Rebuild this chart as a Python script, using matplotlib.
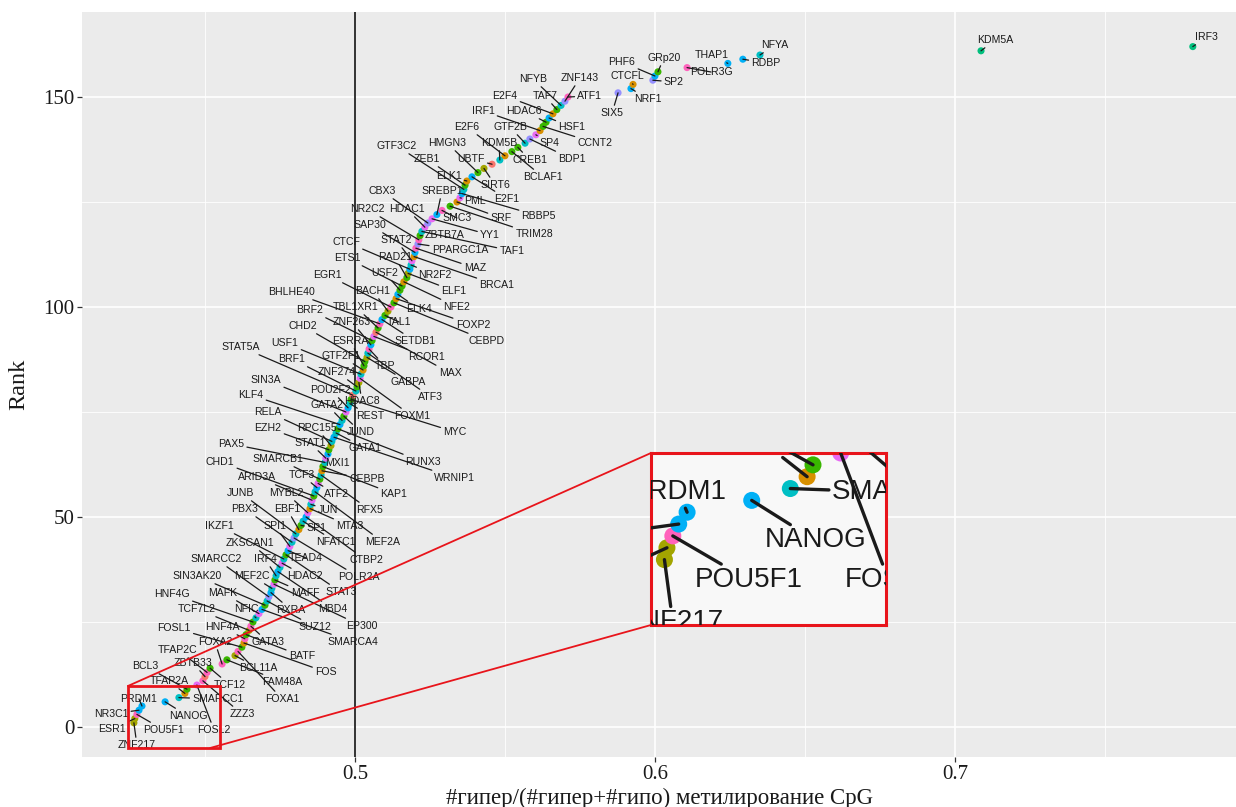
import matplotlib
matplotlib.use("Agg")
import matplotlib.pyplot as plt
from matplotlib.patches import Rectangle, ConnectionPatch

# ---------------- data (ordered by rank, bottom to top) ----------------
genes = [
    "ZNF217", "ESR1", "POU5F1", "NR3C1", "PRDM1", "NANOG", "SMARCC1", "TFAP2A", "BCL3", "FOSL2",
    "ZZZ3", "ZBTB33", "TFAP2C", "TCF12", "FOXA2", "FAM48A", "BCL11A", "FOXA1", "FOSL1", "FOS",
    "HNF4A", "BATF", "TCF7L2", "GATA3", "HNF4G", "NFIC", "MAFK", "SMARCA4", "SIN3AK20", "SUZ12",
    "SMARCC2", "RXRA", "MEF2C", "EP300", "MAFF", "IRF4", "MBD4", "ZKSCAN1", "HDAC2", "IKZF1",
    "STAT3", "TEAD4", "SPI1", "PBX3", "POLR2A", "JUNB", "EBF1", "SP1", "NFATC1", "CTBP2",
    "MYBL2", "MTA3", "JUN", "ARID3A", "CHD1", "MEF2A", "TCF3", "ATF2", "SMARCB1", "RFX5",
    "CEBPB", "KAP1", "PAX5", "STAT1", "MXI1", "EZH2", "RPC155", "RELA", "WRNIP1", "GATA1",
    "RUNX3", "KLF4", "GATA2", "JUND", "SIN3A", "POU2F2", "REST", "MYC", "STAT5A", "BRF1",
    "ZNF274", "HDAC8", "FOXM1", "USF1", "GTF2F1", "ESRRA", "CHD2", "GABPA", "ATF3", "TBP",
    "ZNF263", "BRF2", "RCOR1", "MAX", "TBL1XR1", "BHLHE40", "SETDB1", "TAL1", "BACH1", "EGR1",
    "CEBPD", "FOXP2", "ELK4", "USF2", "ETS1", "NFE2", "RAD21", "ELF1", "CTCF", "NR2F2",
    "STAT2", "BRCA1", "SAP30", "MAZ", "PPARGC1A", "NR2C2", "ZBTB7A", "TAF1", "HDAC1", "CBX3",
    "YY1", "SREBP1", "SMC3", "TRIM28", "SRF", "PML", "RBBP5", "GTF3C2", "ZEB1", "ELK1",
    "E2F1", "HMGN3", "SIRT6", "UBTF", "KDM5B", "E2F6", "BCLAF1", "CREB1", "GTF2B", "BDP1",
    "SP4", "IRF1", "CCNT2", "HDAC6", "HSF1", "E2F4", "TAF7", "NFYB", "ZNF143", "ATF1",
    "SIX5", "NRF1", "CTCFL", "SP2", "PHF6", "GRp20", "POLR3G", "THAP1", "RDBP", "NFYA",
    "KDM5A", "IRF3",
]
rank = list(range(1, len(genes) + 1))

meth_ratio = [
    0.4263, 0.4266, 0.4273, 0.4280, 0.4290, 0.4367, 0.4413, 0.4433, 0.4440, 0.4473,
    0.4493, 0.4500, 0.4507, 0.4517, 0.4557, 0.4573, 0.4600, 0.4610, 0.4623, 0.4630,
    0.4633, 0.4637, 0.4647, 0.4653, 0.4660, 0.4670, 0.4680, 0.4690, 0.4700, 0.4707,
    0.4713, 0.4720, 0.4723, 0.4730, 0.4733, 0.4737, 0.4743, 0.4750, 0.4757, 0.4763,
    0.4770, 0.4777, 0.4783, 0.4790, 0.4797, 0.4803, 0.4813, 0.4820, 0.4827, 0.4837,
    0.4843, 0.4850, 0.4853, 0.4857, 0.4863, 0.4867, 0.4873, 0.4877, 0.4883, 0.4887,
    0.4890, 0.4893, 0.4900, 0.4903, 0.4910, 0.4913, 0.4920, 0.4923, 0.4930, 0.4937,
    0.4943, 0.4950, 0.4957, 0.4963, 0.4970, 0.4977, 0.4983, 0.4987, 0.4993, 0.5003,
    0.5007, 0.5013, 0.5017, 0.5020, 0.5027, 0.5030, 0.5033, 0.5040, 0.5043, 0.5047,
    0.5053, 0.5057, 0.5063, 0.5070, 0.5077, 0.5083, 0.5090, 0.5100, 0.5110, 0.5120,
    0.5130, 0.5137, 0.5143, 0.5150, 0.5157, 0.5163, 0.5173, 0.5177, 0.5183, 0.5187,
    0.5190, 0.5197, 0.5200, 0.5203, 0.5210, 0.5213, 0.5217, 0.5223, 0.5233, 0.5243,
    0.5257, 0.5273, 0.5290, 0.5317, 0.5340, 0.5350, 0.5357, 0.5363, 0.5367, 0.5373,
    0.5390, 0.5410, 0.5430, 0.5457, 0.5483, 0.5500, 0.5523, 0.5543, 0.5567, 0.5583,
    0.5603, 0.5617, 0.5627, 0.5637, 0.5647, 0.5660, 0.5673, 0.5687, 0.5700, 0.5710,
    0.5877, 0.5920, 0.5927, 0.5993, 0.6000, 0.6010, 0.6107, 0.6243, 0.6293, 0.6350,
    0.7087, 0.7793,
]

color_group = [
    2, 2, 9, 6, 6, 6, 5, 1, 3, 8,
    9, 0, 9, 3, 9, 3, 2, 9, 3, 1,
    9, 3, 2, 9, 3, 5, 8, 6, 3, 5,
    7, 6, 5, 8, 3, 5, 6, 5, 8, 5,
    3, 6, 8, 5, 7, 5, 1, 3, 5, 6,
    8, 1, 5, 8, 3, 5, 6, 8, 3, 5,
    1, 3, 5, 8, 6, 3, 2, 5, 6, 5,
    3, 6, 5, 3, 8, 6, 5, 3, 0, 5,
    3, 2, 8, 5, 1, 3, 3, 2, 5, 9,
    6, 3, 8, 0, 3, 9, 6, 3, 2, 9,
    3, 1, 6, 3, 3, 1, 3, 2, 6, 5,
    8, 1, 6, 9, 7, 9, 3, 5, 8, 7,
    8, 6, 9, 3, 1, 8, 6, 5, 3, 1,
    6, 3, 2, 0, 5, 1, 3, 3, 5, 7,
    8, 1, 3, 3, 6, 1, 3, 5, 7, 9,
    7, 6, 1, 7, 6, 3, 9, 6, 6, 5,
    4, 4,
]
palette = ["#F8766D", "#D89000", "#A3A500", "#39B600", "#00BF7D",
           "#00BFC4", "#00B0F6", "#9590FF", "#E76BF3", "#FF62BC"]

x_ticks = [0.5, 0.6, 0.7]
x_tick_labels = ["0.5", "0.6", "0.7"]
y_ticks = [0, 50, 100, 150]
y_tick_labels = ["0", "50", "100", "150"]
x_title = "#гипер/(#гипер+#гипо) метилирование CpG"
y_title = "Rank"

# ---------------- label layout (repelled label positions, data units) ----------------
label_x = [
    0.4273, 0.4190, 0.4363, 0.4187, 0.4280, 0.4443, 0.4543, 0.4380, 0.4300, 0.4530,
    0.4623, 0.4460, 0.4410, 0.4583, 0.4533, 0.4757, 0.4677, 0.4757, 0.4397, 0.4903,
    0.4557, 0.4823, 0.4473, 0.4710, 0.4390, 0.4637, 0.4560, 0.4993, 0.4473, 0.4867,
    0.4537, 0.4787, 0.4657, 0.5023, 0.4833, 0.4700, 0.4927, 0.4650, 0.4833, 0.4547,
    0.4953, 0.4837, 0.4733, 0.4633, 0.5013, 0.4620, 0.4773, 0.4873, 0.4937, 0.5037,
    0.4770, 0.4983, 0.4910, 0.4673, 0.4550, 0.5093, 0.4823, 0.4937, 0.4743, 0.5050,
    0.5040, 0.5130, 0.4587, 0.4850, 0.4943, 0.4710, 0.4873, 0.4710, 0.5333, 0.5033,
    0.5227, 0.4653, 0.4907, 0.5020, 0.4703, 0.4920, 0.5050, 0.5333, 0.4620, 0.4790,
    0.4940, 0.5023, 0.5190, 0.4767, 0.4953, 0.4983, 0.4827, 0.5177, 0.5253, 0.5100,
    0.4990, 0.4850, 0.5240, 0.5317, 0.5003, 0.4787, 0.5200, 0.5147, 0.5060, 0.4907,
    0.5440, 0.5393, 0.5213, 0.5100, 0.4973, 0.5340, 0.5133, 0.5330, 0.4970, 0.5267,
    0.5137, 0.5473, 0.5050, 0.5400, 0.5350, 0.5040, 0.5300, 0.5523, 0.5173, 0.5090,
    0.5450, 0.5290, 0.5340, 0.5597, 0.5487, 0.5400, 0.5613, 0.5140, 0.5240, 0.5313,
    0.5507, 0.5307, 0.5467, 0.5387, 0.5480, 0.5373, 0.5627, 0.5583, 0.5517, 0.5723,
    0.5650, 0.5427, 0.5800, 0.5563, 0.5723, 0.5500, 0.5633, 0.5593, 0.5750, 0.5783,
    0.5857, 0.5977, 0.5907, 0.6063, 0.5890, 0.6030, 0.6187, 0.6190, 0.6370, 0.6400,
    0.7133, 0.7840,
]
label_y = [
    -4.29, -0.48, -0.71, 3.10, 6.67, 2.62, 6.67, 10.95, 14.52, -0.71,
    3.10, 15.24, 18.33, 10.00, 20.24, 10.71, 14.05, 6.67, 23.57, 13.10,
    23.81, 16.90, 28.10, 20.24, 31.67, 28.10, 31.90, 20.24, 35.95, 23.81,
    40.00, 27.86, 35.95, 24.05, 31.90, 40.00, 28.10, 43.81, 35.95, 47.86,
    32.14, 40.24, 47.86, 51.90, 35.71, 55.71, 51.90, 47.38, 44.05, 39.76,
    55.71, 47.86, 51.67, 59.52, 63.10, 44.05, 60.00, 55.48, 63.81, 51.67,
    59.05, 55.48, 67.38, 67.62, 62.86, 71.19, 71.19, 75.00, 59.29, 66.43,
    63.10, 79.05, 76.67, 70.24, 82.62, 80.24, 74.05, 70.24, 90.48, 87.62,
    84.52, 77.62, 74.05, 91.43, 88.33, 91.90, 95.48, 82.14, 78.57, 85.95,
    96.43, 99.29, 88.10, 84.29, 100.00, 103.57, 91.90, 96.43, 103.81, 107.62,
    91.90, 95.71, 99.52, 108.10, 111.67, 100.00, 111.90, 103.81, 115.48, 107.62,
    115.95, 105.24, 119.52, 109.29, 113.57, 123.33, 117.14, 113.33, 123.33, 127.62,
    117.14, 127.62, 121.19, 117.38, 121.19, 125.24, 121.67, 138.33, 135.24, 131.19,
    125.71, 139.05, 129.05, 135.24, 139.05, 142.86, 130.95, 135.00, 142.86, 135.24,
    139.05, 146.67, 139.05, 146.67, 142.86, 150.24, 150.24, 154.29, 154.52, 150.24,
    146.19, 149.52, 155.00, 153.57, 158.33, 159.29, 155.95, 160.00, 158.10, 162.38,
    163.57, 164.29,
]

# ---------------- figure ----------------
W, H = 1236, 807
fig = plt.figure(figsize=(W / 100, H / 100), dpi=100)
fig.patch.set_facecolor("white")
ax = fig.add_axes([82 / W, 1 - 757 / H, (1236 - 82) / W, (757 - 12) / H])
ax.set_facecolor("#EBEBEB")
ax.set_xlim(0.4090, 0.7937)
ax.set_ylim(-7.14, 170.24)
for s in ax.spines.values():
    s.set_visible(False)

# grid
for v in [0.45, 0.55, 0.65, 0.75]:
    ax.axvline(v, color="white", lw=0.6, zorder=0)
for v in [25, 75, 125]:
    ax.axhline(v, color="white", lw=0.6, zorder=0)
for v in x_ticks:
    ax.axvline(v, color="white", lw=1.2, zorder=0)
for v in y_ticks:
    ax.axhline(v, color="white", lw=1.2, zorder=0)

ax.axvline(0.5, color="#222222", lw=1.3, zorder=1)

point_colors = [palette[c] for c in color_group]


def draw_layer(a, msize, fsize, lw, window=None):
    a.scatter(meth_ratio, rank, s=msize, c=point_colors, linewidths=0, zorder=2)
    for g, x, r, lx, ly in zip(genes, meth_ratio, rank, label_x, label_y):
        if window is not None:
            x0, x1, y0, y1 = window
            inside_pt = x0 <= x <= x1 and y0 <= r <= y1
            inside_lab = x0 <= lx <= x1 and y0 <= ly <= y1
            if not (inside_pt or inside_lab):
                continue
        ann = a.annotate(
            g, xy=(x, r), xytext=(lx, ly), textcoords="data",
            ha="center", va="center", fontsize=fsize, color="#1a1a1a",
            family="Liberation Sans", annotation_clip=False, zorder=3,
            arrowprops=dict(arrowstyle="-", color="#1a1a1a", lw=lw,
                            shrinkA=0, shrinkB=0),
        )
        if window is not None:
            ann.set_clip_on(True)
            ann.set_clip_box(a.bbox)
            ann.arrow_patch.set_clip_on(True)
            ann.arrow_patch.set_clip_box(a.bbox)


draw_layer(ax, 26, 7.6, 0.9)

ax.set_xticks(x_ticks)
ax.set_xticklabels(x_tick_labels)
ax.set_yticks(y_ticks)
ax.set_yticklabels(y_tick_labels)
ax.tick_params(axis="both", length=3.5, width=0.9, color="#333333",
               labelsize=15, labelcolor="#1a1a1a", pad=2)
for t in ax.get_xticklabels() + ax.get_yticklabels():
    t.set_family("Liberation Serif")
ax.set_xlabel(x_title, family="Liberation Serif", fontsize=16.5, labelpad=3, color="#1a1a1a")
ax.set_ylabel(y_title, family="Liberation Serif", fontsize=17.5, labelpad=10, color="#1a1a1a")

# zoom rectangle
rx0, rx1, ry0, ry1 = 0.4243, 0.4550, -5.0, 9.76
ax.add_patch(Rectangle((rx0, ry0), rx1 - rx0, ry1 - ry0, fill=False,
                       edgecolor="#E8141B", lw=2.0, zorder=6))

# inset (magnified view)
ix0, ix1, iy0, iy1 = 0.4247, 0.4527, -4.52, 10.0
ins = fig.add_axes([651 / W, 1 - 625 / H, 235 / W, 172 / H])
ins.set_facecolor("#F8F8F8")
ins.set_xlim(ix0, ix1)
ins.set_ylim(iy0, iy1)
ins.set_xticks([])
ins.set_yticks([])
draw_layer(ins, 150, 20, 2.4, window=(ix0 - 0.004, ix1 + 0.004, iy0 - 1.5, iy1 + 1.5))
for s in ins.spines.values():
    s.set_edgecolor("#E8141B")
    s.set_linewidth(2.2)

con1 = ConnectionPatch(xyA=(rx0, ry1), coordsA=ax.transData,
                       xyB=(0, 1), coordsB=ins.transAxes,
                       color="#E8141B", lw=1.3, zorder=7)
con2 = ConnectionPatch(xyA=(0.4517, ry0), coordsA=ax.transData,
                       xyB=(0, 0), coordsB=ins.transAxes,
                       color="#E8141B", lw=1.3, zorder=7)
fig.add_artist(con1)
fig.add_artist(con2)

fig.savefig("out.png", dpi=100)
